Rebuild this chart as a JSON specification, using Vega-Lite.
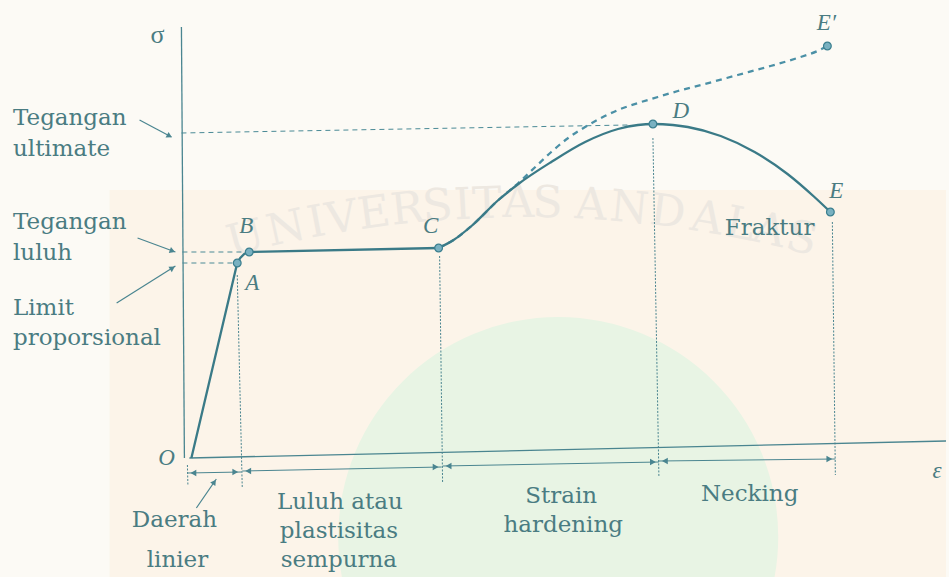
{
  "$schema": "https://vega.github.io/schema/vega-lite/v6.json",
  "width": 949,
  "height": 577,
  "autosize": {"type": "fit", "contains": "padding"},
  "padding": 0,
  "background": "#fcfaf5",
  "config": {"view": {"stroke": null}},
  "datasets": {
    "wash": [{"x": 110, "x2": 949, "y": 0, "y2": 387}],
    "blob": [{"x": 560, "y": 40}],
    "watermark": [
      {"ch": "U", "x": 250, "y": 325, "angle": -14.5}, {"ch": "N", "x": 290, "y": 335, "angle": -12.4},
      {"ch": "I", "x": 320, "y": 341, "angle": -10.8}, {"ch": "V", "x": 345, "y": 345, "angle": -9.4},
      {"ch": "E", "x": 377, "y": 350, "angle": -7.8}, {"ch": "R", "x": 410, "y": 354, "angle": -6},
      {"ch": "S", "x": 440, "y": 357, "angle": -4.4}, {"ch": "I", "x": 465, "y": 358, "angle": -3.1},
      {"ch": "T", "x": 489, "y": 359, "angle": -2}, {"ch": "A", "x": 520, "y": 360, "angle": 0},
      {"ch": "S", "x": 549, "y": 360, "angle": 1.1}, {"ch": "A", "x": 592, "y": 358, "angle": 3.5},
      {"ch": "N", "x": 630, "y": 355, "angle": 5.5}, {"ch": "D", "x": 668, "y": 351, "angle": 7.4},
      {"ch": "A", "x": 707, "y": 345, "angle": 9.5}, {"ch": "L", "x": 740, "y": 339, "angle": 11.2},
      {"ch": "A", "x": 769, "y": 333, "angle": 12.7}, {"ch": "S", "x": 801, "y": 325, "angle": 14.5}
    ],
    "axes": [
      {"id": "sigma", "x": 182, "y": 550}, {"id": "sigma", "x": 185, "y": 119},
      {"id": "eps", "x": 190, "y": 119}, {"id": "eps", "x": 949, "y": 136}
    ],
    "elastic": [
      {"x": 192, "y": 119}, {"x": 238, "y": 314}, {"x": 241, "y": 319}, {"x": 245, "y": 323},
      {"x": 250, "y": 325}, {"x": 440, "y": 329}
    ],
    "curve": [
      {"x": 440, "y": 329}, {"x": 455, "y": 337}, {"x": 473, "y": 351},
      {"x": 500, "y": 377}, {"x": 520, "y": 393}, {"x": 553, "y": 415}, {"x": 587, "y": 435},
      {"x": 620, "y": 448}, {"x": 640, "y": 452}, {"x": 655, "y": 453}, {"x": 675, "y": 452},
      {"x": 690, "y": 450}, {"x": 723, "y": 441}, {"x": 757, "y": 425}, {"x": 790, "y": 403},
      {"x": 817, "y": 380}, {"x": 833, "y": 365}
    ],
    "truecurve": [
      {"x": 440, "y": 329}, {"x": 455, "y": 337}, {"x": 473, "y": 351}, {"x": 500, "y": 377},
      {"x": 520, "y": 394}, {"x": 537, "y": 410}, {"x": 553, "y": 425}, {"x": 570, "y": 439},
      {"x": 587, "y": 450}, {"x": 603, "y": 459}, {"x": 620, "y": 467}, {"x": 640, "y": 474},
      {"x": 660, "y": 480}, {"x": 680, "y": 486}, {"x": 707, "y": 493}, {"x": 740, "y": 502},
      {"x": 773, "y": 511}, {"x": 800, "y": 519}, {"x": 820, "y": 526}, {"x": 830, "y": 531}
    ],
    "guides": [
      {"id": "ultimate", "x": 182, "y": 444}, {"id": "ultimate", "x": 630, "y": 452},
      {"id": "luluh", "x": 183, "y": 325}, {"id": "luluh", "x": 250, "y": 325},
      {"id": "limit", "x": 183, "y": 314}, {"id": "limit", "x": 238, "y": 314}
    ],
    "verticals": [
      {"id": "A", "x": 238, "y": 302}, {"id": "A", "x": 243, "y": 90},
      {"id": "C", "x": 441, "y": 321}, {"id": "C", "x": 444, "y": 94},
      {"id": "D", "x": 655, "y": 439}, {"id": "D", "x": 661, "y": 100},
      {"id": "E", "x": 835, "y": 355}, {"id": "E", "x": 838, "y": 102},
      {"id": "O", "x": 188, "y": 112}, {"id": "O", "x": 188.5, "y": 92}
    ],
    "spans": [
      {"id": "linier", "x": 188, "y": 104}, {"id": "linier", "x": 242, "y": 105},
      {"id": "luluh", "x": 243, "y": 106}, {"id": "luluh", "x": 443, "y": 110},
      {"id": "hardening", "x": 444, "y": 111}, {"id": "hardening", "x": 661, "y": 115},
      {"id": "necking", "x": 661, "y": 116}, {"id": "necking", "x": 838, "y": 118}
    ],
    "heads": [
      {"x": 194, "y": 104, "dir": "left"}, {"x": 236, "y": 105, "dir": "right"},
      {"x": 249, "y": 106, "dir": "left"}, {"x": 437, "y": 110, "dir": "right"},
      {"x": 450, "y": 111, "dir": "left"}, {"x": 655, "y": 115, "dir": "right"},
      {"x": 667, "y": 116, "dir": "left"}, {"x": 832, "y": 118, "dir": "right"}
    ],
    "leaders": [
      {"id": "ultimate", "x": 140, "y": 457}, {"id": "ultimate", "x": 172, "y": 440},
      {"id": "luluh", "x": 138, "y": 339}, {"id": "luluh", "x": 176, "y": 325},
      {"id": "limit", "x": 117, "y": 274}, {"id": "limit", "x": 176, "y": 311},
      {"id": "daerah", "x": 197, "y": 69}, {"id": "daerah", "x": 217, "y": 98}
    ],
    "tips": [
      {"x": 170, "y": 441, "angle": 119},
      {"x": 173, "y": 326, "angle": 110},
      {"x": 173, "y": 309, "angle": 58},
      {"x": 215, "y": 95, "angle": 35}
    ],
    "dots": [
      {"name": "A", "x": 238, "y": 314}, {"name": "B", "x": 250, "y": 325},
      {"name": "C", "x": 440, "y": 329}, {"name": "D", "x": 655, "y": 453},
      {"name": "E", "x": 833, "y": 365}, {"name": "E′", "x": 830, "y": 531}
    ],
    "leftlabels": [
      {"text": "Tegangan", "x": 13, "y": 452}, {"text": "ultimate", "x": 13, "y": 421},
      {"text": "Tegangan", "x": 13, "y": 348}, {"text": "luluh", "x": 13, "y": 317},
      {"text": "Limit", "x": 13, "y": 262}, {"text": "proporsional", "x": 13, "y": 232}
    ],
    "centerlabels": [
      {"text": "Daerah", "x": 175, "y": 50}, {"text": "linier", "x": 178, "y": 10},
      {"text": "Luluh atau", "x": 341, "y": 68}, {"text": "plastisitas", "x": 340, "y": 39},
      {"text": "sempurna", "x": 340, "y": 10},
      {"text": "Strain", "x": 563, "y": 74}, {"text": "hardening", "x": 565, "y": 45},
      {"text": "Necking", "x": 752, "y": 76},
      {"text": "Fraktur", "x": 772, "y": 342}
    ],
    "letters": [
      {"text": "O", "x": 167, "y": 112}, {"text": "A", "x": 253, "y": 287},
      {"text": "B", "x": 247, "y": 344}, {"text": "C", "x": 432, "y": 344},
      {"text": "D", "x": 683, "y": 459}, {"text": "E", "x": 839, "y": 379},
      {"text": "E′", "x": 829, "y": 547}, {"text": "ε", "x": 940, "y": 99}
    ],
    "sigma": [{"text": "σ", "x": 158, "y": 534}]
  },
  "encoding": {
    "x": {"field": "x", "type": "quantitative", "scale": {"domain": [0, 949], "nice": false, "zero": false}, "axis": null},
    "y": {"field": "y", "type": "quantitative", "scale": {"domain": [0, 577], "nice": false, "zero": false}, "axis": null}
  },
  "layer": [
    {
      "data": {"name": "wash"},
      "mark": {"type": "rect", "color": "#fbeedd", "opacity": 0.5},
      "encoding": {"x2": {"field": "x2"}, "y2": {"field": "y2"}}
    },
    {
      "data": {"name": "blob"},
      "mark": {"type": "point", "shape": "circle", "filled": true, "size": 193600, "color": "#e8f4e4", "opacity": 1, "clip": true}
    },
    {
      "data": {"name": "watermark"},
      "mark": {"type": "text", "font": "DejaVu Serif", "fontSize": 44, "color": "#ede8e1", "align": "center", "baseline": "alphabetic"},
      "encoding": {"text": {"field": "ch"}, "angle": {"field": "angle", "type": "quantitative", "scale": null}}
    },
    {
      "data": {"name": "axes"},
      "mark": {"type": "line", "color": "#4a8590", "strokeWidth": 1.3},
      "encoding": {"detail": {"field": "id"}}
    },
    {
      "data": {"name": "guides"},
      "mark": {"type": "line", "color": "#4a8a96", "strokeWidth": 1, "strokeDash": [5, 4]},
      "encoding": {"detail": {"field": "id"}}
    },
    {
      "data": {"name": "verticals"},
      "mark": {"type": "line", "color": "#4a8590", "strokeWidth": 1, "strokeDash": [2, 1.5]},
      "encoding": {"detail": {"field": "id"}}
    },
    {
      "data": {"name": "spans"},
      "mark": {"type": "line", "color": "#4a8590", "strokeWidth": 1},
      "encoding": {"detail": {"field": "id"}}
    },
    {
      "data": {"name": "heads"},
      "mark": {"type": "point", "filled": true, "size": 45, "color": "#4a8590", "opacity": 1},
      "encoding": {"shape": {"field": "dir", "type": "nominal", "scale": {"domain": ["left", "right"], "range": ["triangle-left", "triangle-right"]}, "legend": null}}
    },
    {
      "data": {"name": "leaders"},
      "mark": {"type": "line", "color": "#4a8590", "strokeWidth": 1.2},
      "encoding": {"detail": {"field": "id"}}
    },
    {
      "data": {"name": "tips"},
      "mark": {"type": "point", "shape": "triangle-up", "filled": true, "size": 40, "color": "#4a8590", "opacity": 1},
      "encoding": {"angle": {"field": "angle", "type": "quantitative", "scale": null}}
    },
    {
      "data": {"name": "truecurve"},
      "mark": {"type": "line", "interpolate": "monotone", "color": "#4b90a6", "strokeWidth": 2.3, "strokeDash": [6, 5]}
    },
    {
      "data": {"name": "elastic"},
      "mark": {"type": "line", "interpolate": "linear", "color": "#3a7a87", "strokeWidth": 2.3}
    },
    {
      "data": {"name": "curve"},
      "mark": {"type": "line", "interpolate": "monotone", "color": "#3a7a87", "strokeWidth": 2.3}
    },
    {
      "data": {"name": "dots"},
      "mark": {"type": "point", "shape": "circle", "filled": true, "size": 60, "fill": "#79b1c1", "stroke": "#3b7f8f", "strokeWidth": 1.2, "opacity": 1}
    },
    {
      "data": {"name": "leftlabels"},
      "mark": {"type": "text", "font": "DejaVu Serif", "fontSize": 23, "color": "#4a7c82", "align": "left", "baseline": "alphabetic"},
      "encoding": {"text": {"field": "text"}}
    },
    {
      "data": {"name": "centerlabels"},
      "mark": {"type": "text", "font": "DejaVu Serif", "fontSize": 23, "color": "#4a7c82", "align": "center", "baseline": "alphabetic"},
      "encoding": {"text": {"field": "text"}}
    },
    {
      "data": {"name": "letters"},
      "mark": {"type": "text", "font": "Liberation Serif", "fontStyle": "italic", "fontSize": 23, "color": "#4a7c82", "align": "center", "baseline": "alphabetic"},
      "encoding": {"text": {"field": "text"}}
    },
    {
      "data": {"name": "sigma"},
      "mark": {"type": "text", "font": "Liberation Serif", "fontSize": 26, "color": "#4a7c82", "align": "center", "baseline": "alphabetic"},
      "encoding": {"text": {"field": "text"}}
    }
  ]
}
